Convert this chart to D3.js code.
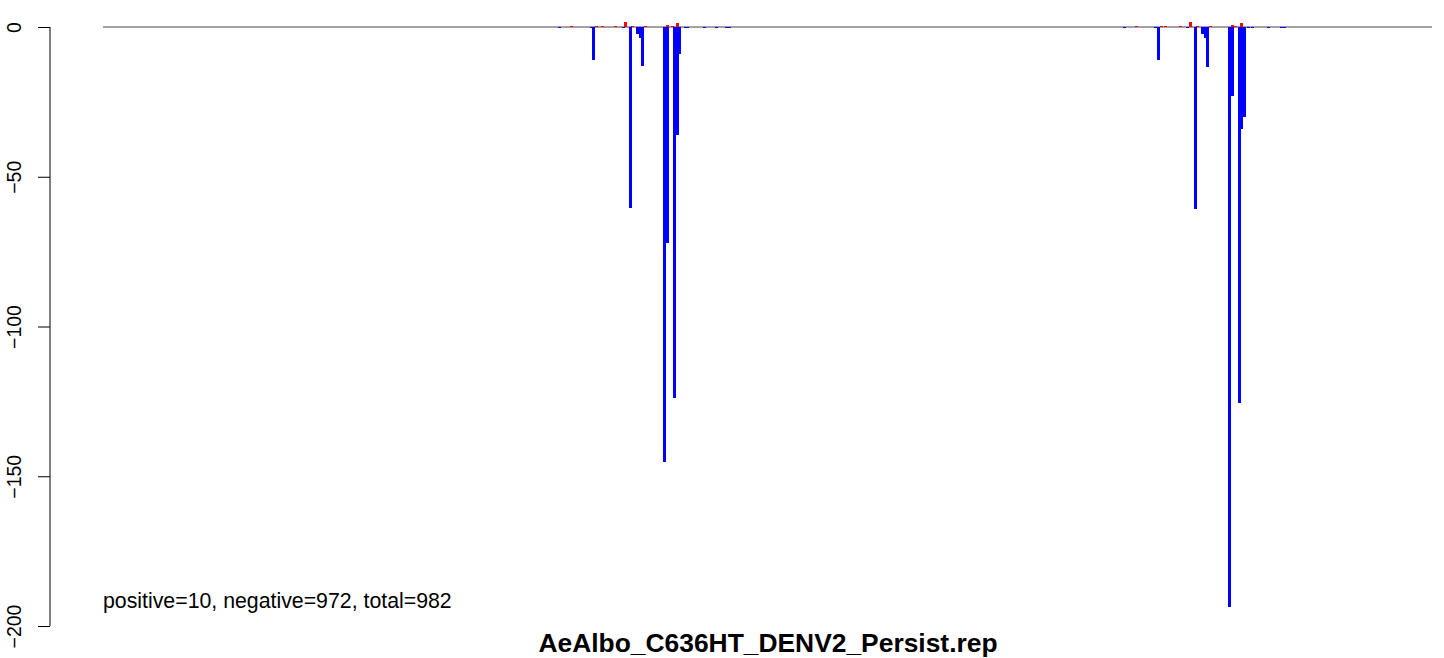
<!DOCTYPE html>
<html><head><meta charset="utf-8">
<script src="https://cdn.jsdelivr.net/npm/d3@7"></script>
<style>html,body{margin:0;padding:0;background:#fff;}svg{display:block;}</style>
</head><body>
<svg id="chart" width="1444" height="658"></svg>
<script>
// Site positions (arbitrary genome units) and replicate scores
const positions = [
  455, 467, 487, 489, 492, 498, 511, 519, 521, 526, 528, 533, 536, 538, 541,
  560, 563, 563, 568, 570, 573, 573, 575, 581, 583, 600, 612, 622, 625,
  1020, 1032, 1051, 1054, 1057, 1061, 1076, 1083, 1086, 1091, 1093, 1098, 1101, 1103, 1106,
  1125, 1128, 1128, 1131, 1135, 1137, 1137, 1140, 1144, 1148, 1164, 1177, 1180
];
const values = [
  -0.5, 0.5, -0.5, -10.9, 0.5, 0.5, 0.5, -0.5, 1.8, -60.5, 0.5, -2.2, -3.8, -13.1, 0.5,
  -145.2, -72.0, 0.8, 0.5, -123.8, -36.0, 1.2, -8.9, -0.5, -0.5, -0.5, -0.5, -0.5, -0.5,
  -0.5, 0.5, -0.5, -10.9, 0.5, 0.5, 0.5, -0.5, 1.8, -60.7, 0.5, -2.3, -3.8, -13.2, 0.5,
  -193.5, -23.1, 0.8, 0.5, -125.5, -33.9, 1.2, -30.2, -0.5, -0.5, -0.5, -0.5, -0.5
];
const xDomain = [0, 1329];
const yDomain = [-200, 0];
const yTicks = [0, -50, -100, -150, -200];
const statsLabel = "positive=10, negative=972, total=982";
const titleLabel = "AeAlbo_C636HT_DENV2_Persist.rep";

const svg = d3.select("#chart");
const x = d3.scaleLinear().domain(xDomain).range([103, 1432]);
const y = d3.scaleLinear().domain(yDomain).range([626, 27]);
const barW = 3;

// baseline
svg.append("line")
  .attr("x1", x(xDomain[0])).attr("x2", x(xDomain[1]))
  .attr("y1", y(0)).attr("y2", y(0))
  .attr("stroke", "#444").attr("stroke-width", 1);

// bars
const data = positions.map((p, i) => ({p, v: values[i]}));
svg.append("g").selectAll("rect").data(data).join("rect")
  .attr("x", d => x(d.p))
  .attr("width", barW)
  .attr("y", d => Math.min(y(0), y(d.v)))
  .attr("height", d => Math.abs(y(d.v) - y(0)))
  .attr("fill", d => d.v < 0 ? "#0000ff" : "#ff0000")
  .attr("shape-rendering", "crispEdges");

// y axis
const axis = d3.axisLeft(y).tickValues(yTicks).tickSize(12).tickFormat(d => d === 0 ? "0" : "\u2212" + Math.abs(d));
const gA = svg.append("g").attr("transform", "translate(50,0)").call(axis);
gA.select(".domain").attr("d", `M0,${y(0)}V${y(-200)}`).attr("stroke", "#000");
gA.selectAll(".tick line").attr("stroke", "#000");
gA.selectAll(".tick text")
  .attr("font-family", "Liberation Sans, Arial, sans-serif")
  .attr("font-size", 19.5)
  .attr("fill", "#000")
  .attr("text-anchor", "middle")
  .attr("x", null).attr("dy", null)
  .attr("transform", "translate(-29.5,0) rotate(-90)")
  .attr("y", 0);

// stats text
svg.append("text")
  .attr("x", 103).attr("y", 608)
  .attr("font-family", "Liberation Sans, Arial, sans-serif")
  .attr("font-size", 21.3)
  .text(statsLabel);

// title
svg.append("text")
  .attr("x", 768).attr("y", 652)
  .attr("text-anchor", "middle")
  .attr("font-family", "Liberation Sans, Arial, sans-serif")
  .attr("font-weight", "bold")
  .attr("font-size", 26.4)
  .text(titleLabel);
</script>
</body></html>
